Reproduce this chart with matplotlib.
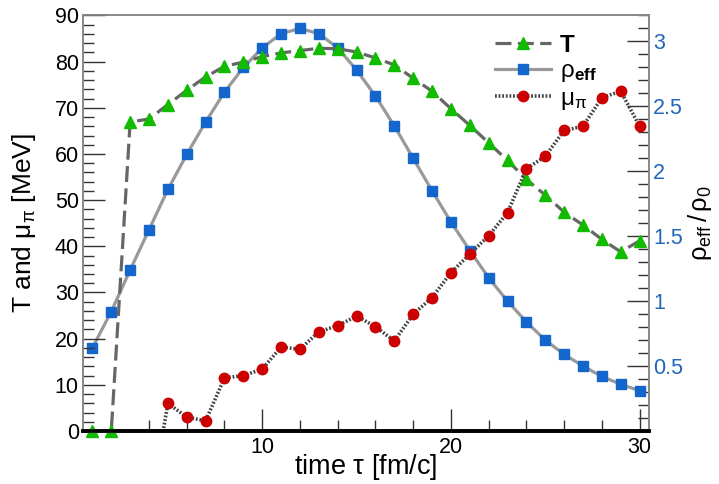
import numpy as np
import matplotlib
matplotlib.use("Agg")
import matplotlib.pyplot as plt
from matplotlib.lines import Line2D
from matplotlib.ticker import MultipleLocator

plt.rcParams['font.family'] = ['Liberation Sans', 'DejaVu Sans']
plt.rcParams['mathtext.fontset'] = 'custom'
plt.rcParams['mathtext.rm'] = 'Liberation Sans'
plt.rcParams['mathtext.it'] = 'Liberation Sans:italic'
plt.rcParams['mathtext.bf'] = 'Liberation Sans:bold'
plt.rcParams['mathtext.default'] = 'regular'

# time steps [fm/c]
tau = np.arange(1, 31)

# temperature [MeV]
T = [0.0, 0.0, 66.9, 67.6, 70.7, 73.8, 76.7, 79.0, 79.9, 81.1,
     81.9, 82.4, 82.9, 82.8, 82.1, 80.8, 79.3, 76.4, 73.6, 69.8,
     66.2, 62.4, 58.6, 54.5, 51.1, 47.4, 44.6, 41.5, 38.8, 41.2]

# effective density rho_eff / rho_0
rho = [0.64, 0.92, 1.24, 1.55, 1.86, 2.13, 2.38, 2.61, 2.80, 2.95,
       3.06, 3.10, 3.06, 2.95, 2.78, 2.58, 2.35, 2.10, 1.85, 1.61,
       1.39, 1.18, 1.00, 0.84, 0.70, 0.59, 0.50, 0.42, 0.36, 0.31]

# pion chemical potential [MeV], from tau = 4 on
tau_mu = np.arange(4, 31)
mu = [-18.0, 6.0, 3.0, 2.2, 11.5, 12.0, 13.4, 18.2, 17.7, 21.5,
      22.8, 24.9, 22.6, 19.5, 25.3, 28.9, 34.3, 38.3, 42.3, 47.3,
      56.8, 59.5, 65.1, 66.0, 72.2, 73.6, 66.0]

c_T = '#666666'
c_rho = '#999999'
c_mu = '#444444'
green = '#11bb00'
blue = '#1566cc'
red = '#cc0000'
tick_blue = '#2266bb'

fig = plt.figure(figsize=(7.19, 4.84), dpi=100)
ax = fig.add_axes([0.1154, 0.1095, 0.7873, 0.8585])
ax2 = ax.twinx()
ax2.set_zorder(ax.get_zorder() - 1)
ax.patch.set_visible(False)

# density on the right-hand scale
ax2.plot(tau, rho, color=c_rho, lw=2.3, marker='s', ms=7.5,
         mfc=blue, mec=blue)
ax.plot(tau, T, color=c_T, lw=2.3, dashes=(5, 2), marker='^', ms=8.5,
        mfc=green, mec=green, clip_on=False)
ax.plot(tau_mu, mu, color=c_mu, lw=2.6, dashes=(0.5, 0.5), marker='o',
        ms=7.5, mfc=red, mec=red)

ax.set_xlim(0.5, 30.5)
ax.set_ylim(0, 90)
ax2.set_ylim(0, 3.2)

ax.xaxis.set_major_locator(MultipleLocator(10))
ax.xaxis.set_minor_locator(MultipleLocator(2))
ax.yaxis.set_major_locator(MultipleLocator(10))
ax.yaxis.set_minor_locator(MultipleLocator(2))
ax2.yaxis.set_major_locator(MultipleLocator(0.5))
ax2.yaxis.set_minor_locator(MultipleLocator(0.1))

ax.tick_params(axis='both', which='both', direction='in', top=False,
               right=False, labelsize=15.5, color='#333333')
ax.tick_params(which='major', length=16, width=1)
ax.tick_params(which='minor', length=8, width=1)
ax.tick_params(axis='y', pad=3)
ax.tick_params(axis='x', pad=4)
ax2.tick_params(axis='y', which='both', direction='in', labelsize=15.5,
                labelcolor=tick_blue, color='#333333', pad=3)
ax2.tick_params(which='major', length=16, width=1)
ax2.tick_params(which='minor', length=8, width=1)
ax2.set_yticks(np.arange(0.5, 3.01, 0.5))
ax2.set_yticklabels(['0.5', '1', '1.5', '2', '2.5', '3'])

for a in (ax, ax2):
    for side in ('top', 'left', 'right'):
        a.spines[side].set_color('#888888')
        a.spines[side].set_linewidth(1.2)
    a.spines['bottom'].set_color('black')
    a.spines['bottom'].set_linewidth(2.6)

ax.set_xlabel(r'time $\tau$ [fm/c]', fontsize=19.5, labelpad=-4)
ax.set_ylabel(r'T and $\mu_\pi$ [MeV]', fontsize=19, labelpad=12)
ax2.set_ylabel(r'$\rho_{eff}\,/\,\rho_0$', fontsize=18.5, labelpad=2)

handles = [
    Line2D([], [], color=c_T, lw=2.3, dashes=(5, 2), marker='^', ms=8.5,
           mfc=green, mec=green),
    Line2D([], [], color=c_rho, lw=2.3, marker='s', ms=7.5,
           mfc=blue, mec=blue),
    Line2D([], [], color=c_mu, lw=2.6, dashes=(0.5, 0.5), marker='o',
           ms=7.5, mfc=red, mec=red),
]
labels = ['T', r'$\rho_{\mathbf{eff}}$', r'$\mu_\pi$']
leg = ax.legend(handles, labels, loc='upper left',
                bbox_to_anchor=(0.71, 0.98), frameon=False, fontsize=17.5,
                handlelength=2.3, handletextpad=0.4, labelspacing=0.15,
                borderaxespad=0)
leg.get_texts()[0].set_fontweight('bold')

fig.savefig('out.png', dpi=100)
